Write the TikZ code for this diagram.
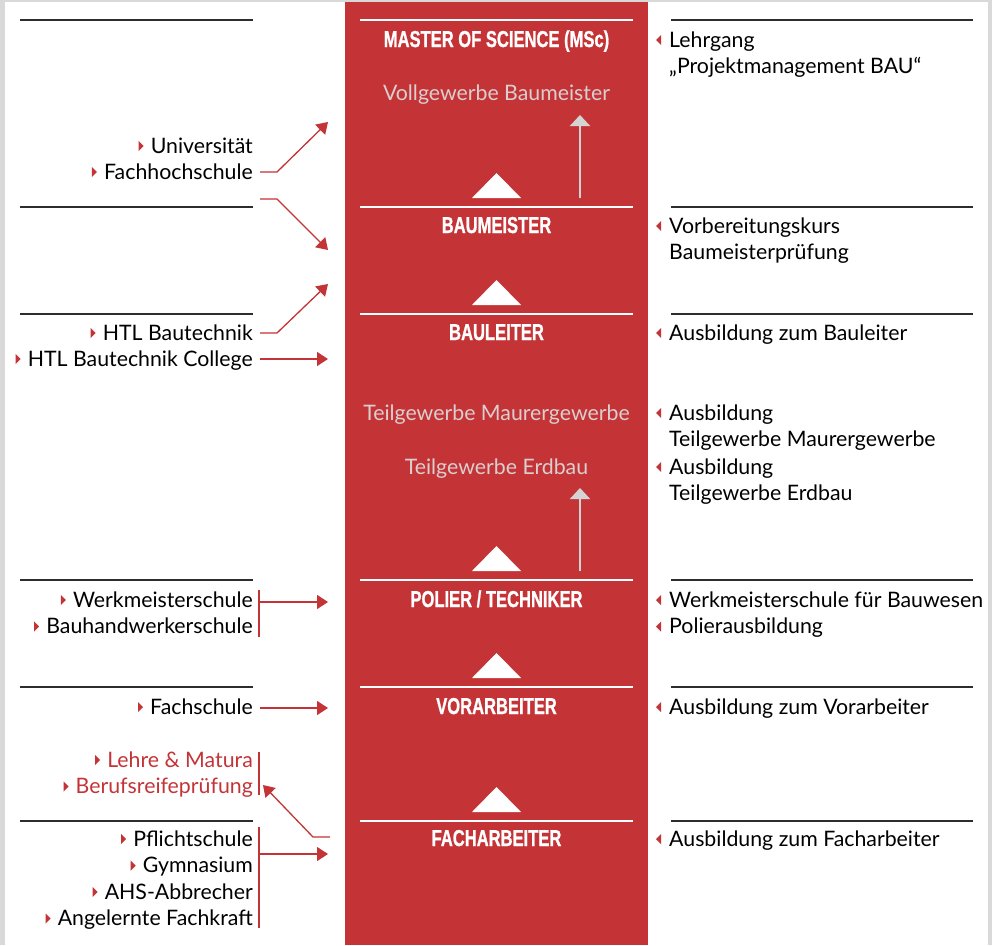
\documentclass[tikz,border=0pt]{standalone}
\usepackage{graphicx}
\usepackage{fontspec}
\setmainfont{Lato}
\newfontfamily\titlefont{Liberation Sans}[BoldFeatures={FakeBold=1.2}]
\usetikzlibrary{arrows.meta}
\definecolor{redc}{RGB}{196,52,55}
\definecolor{framec}{RGB}{217,217,217}
\definecolor{lightc}{RGB}{218,206,206}
\definecolor{linec}{RGB}{45,45,45}
\definecolor{arrowgray}{RGB}{212,212,212}
\newcommand\mkL[1]{\fill[redc] ([xshift=-7pt]#1.base west) ++(0,-7) -- ++(-5,-5) -- ++(0,10) -- cycle;}
\newcommand\mkR[1]{\fill[redc] ([xshift=-8pt]#1.base west) ++(0,-12) -- ++(0,10) -- ++(-5,-5) -- cycle;}
\newcommand\ttl[1]{\scalebox{0.72}[1]{#1}}
\begin{document}
\begin{tikzpicture}[x=1pt,y=-1pt,
  bodyfont/.style={font=\fontsize{21.3}{25}\selectfont},
  lt/.style={bodyfont, anchor=base east, inner sep=0pt, text=black},
  rt/.style={bodyfont, anchor=base west, inner sep=0pt, text=black},
  ct/.style={bodyfont, anchor=base, inner sep=0pt, text=lightc},
  tt/.style={anchor=base, inner sep=0pt, text=white, font=\titlefont\bfseries\fontsize{23}{27}\selectfont},
  sep/.style={linec, line width=1.3pt},
  wsep/.style={white, line width=1.2pt},
  rarr/.style={redc, line width=1.3pt, -{Triangle[length=11pt,width=14pt]}},
  brk/.style={redc, line width=1.3pt},
  garr/.style={arrowgray, line width=2pt, -{Triangle[length=11pt,width=20pt]}},
  lvl/.style={fill=white}
]
\useasboundingbox (0,0) rectangle (992,945);
\fill[framec] (0,0) rectangle (992,945);
\fill[white] (5,2) rectangle (988,945);
\fill[redc] (345,2) rectangle (648,945);

% separator lines
\foreach \yy in {20,207,314,580,687,821}{
  \draw[sep] (20,\yy) -- (253,\yy);
  \draw[wsep] (360,\yy) -- (633,\yy);
  \draw[sep] (671,\yy) -- (973,\yy);
}

% level triangles
\foreach \yy in {198,305,571,678,812}{
  \fill[lvl] (472,\yy) -- (521,\yy) -- (496.5,\yy-25) -- cycle;
}

% titles
\node[tt] (msc) at (496.5,47) {\ttl{MASTER OF SCIENCE (MSc)}};
\node[tt] (bm) at (496.5,233) {\ttl{BAUMEISTER}};
\node[tt] (bl) at (496.5,340) {\ttl{BAULEITER}};
\node[tt] (pt) at (496.5,607) {\ttl{POLIER / TECHNIKER}};
\node[tt] (va) at (496.5,714) {\ttl{VORARBEITER}};
\node[tt] (fa) at (496.5,846) {\ttl{FACHARBEITER}};

% light texts in column
\node[ct] (vg) at (496.5,100) {Vollgewerbe Baumeister};
\node[ct] (tm) at (496.5,420) {Teilgewerbe Maurergewerbe};
\node[ct] (te) at (496.5,474) {Teilgewerbe Erdbau};

% gray arrows
\coordinate (g1s) at (580,198); \coordinate (g1e) at (580,115);
\coordinate (g2s) at (580,571); \coordinate (g2e) at (580,488);
\draw[garr] (g1s) -- (g1e);
\draw[garr] (g2s) -- (g2e);

% left texts
\node[lt] (uni) at (253,153) {Universität}; \mkL{uni}
\node[lt] (fh) at (253,179) {Fachhochschule}; \mkL{fh}
\node[lt] (htl) at (253,340) {HTL Bautechnik}; \mkL{htl}
\node[lt] (htlc) at (253,366) {HTL Bautechnik College}; \mkL{htlc}
\node[lt] (wms) at (253,607) {Werkmeisterschule}; \mkL{wms}
\node[lt] (bhw) at (253,633.5) {Bauhandwerkerschule}; \mkL{bhw}
\node[lt] (fs) at (253,714) {Fachschule}; \mkL{fs}
\node[lt,text=redc] (lm) at (253,767) {Lehre \& Matura}; \mkL{lm}
\node[lt,text=redc] (brp) at (253,793.5) {Berufsreifeprüfung}; \mkL{brp}
\node[lt] (ps) at (253,846) {Pflichtschule}; \mkL{ps}
\node[lt] (gym) at (253,872.5) {Gymnasium}; \mkL{gym}
\node[lt] (ahs) at (253,899) {AHS-Abbrecher}; \mkL{ahs}
\node[lt] (aef) at (253,925.5) {Angelernte Fachkraft}; \mkL{aef}

% right texts
\node[rt] (r1) at (669,47) {Lehrgang}; \mkR{r1}
\node[rt] (r1b) at (669,73.5) {„Projektmanagement BAU“};
\node[rt] (r2) at (669,233) {Vorbereitungskurs}; \mkR{r2}
\node[rt] (r2b) at (669,259.5) {Baumeisterprüfung};
\node[rt] (r3) at (669,340) {Ausbildung zum Bauleiter}; \mkR{r3}
\node[rt] (r4) at (669,420) {Ausbildung}; \mkR{r4}
\node[rt] (r4b) at (669,446.5) {Teilgewerbe Maurergewerbe};
\node[rt] (r5) at (669,474) {Ausbildung}; \mkR{r5}
\node[rt] (r5b) at (669,500.5) {Teilgewerbe Erdbau};
\node[rt] (r6) at (669,607) {Werkmeisterschule für Bauwesen}; \mkR{r6}
\node[rt] (r7) at (669,633.5) {Polierausbildung}; \mkR{r7}
\node[rt] (r8) at (669,714) {Ausbildung zum Vorarbeiter}; \mkR{r8}
\node[rt] (r9) at (669,846) {Ausbildung zum Facharbeiter}; \mkR{r9}

% red arrows
\coordinate (a1s) at (260,172); \coordinate (a1e) at (328,122);
\draw[rarr] (a1s) -- ++(17,0) -- (a1e);
\coordinate (a2s) at (260,199); \coordinate (a2e) at (328,250);
\draw[rarr] (a2s) -- ++(17,0) -- (a2e);
\coordinate (a3s) at (260,333); \coordinate (a3e) at (328,284);
\draw[rarr] (a3s) -- ++(17,0) -- (a3e);
\coordinate (a4s) at (260,359); \coordinate (a4e) at (328,359);
\draw[rarr] (a4s) -- (a4e);
% Werkmeister bracket
\coordinate (b1t) at (259,590); \coordinate (b1b) at (259,637);
\draw[brk] (b1t) -- (b1b);
\coordinate (a5s) at (259,602); \coordinate (a5e) at (328,602);
\draw[rarr] (a5s) -- (a5e);
% Fachschule
\coordinate (a6s) at (260,708); \coordinate (a6e) at (328,708);
\draw[rarr] (a6s) -- (a6e);
% Lehre bracket
\coordinate (b2t) at (259,752); \coordinate (b2b) at (259,795);
\draw[brk] (b2t) -- (b2b);
\coordinate (a7s) at (330,837); \coordinate (a7e) at (263,785);
\draw[rarr] (a7s) -- ++(-17,0) -- (a7e);
% Pflichtschule bracket
\coordinate (b3t) at (259,827); \coordinate (b3b) at (259,928);
\draw[brk] (b3t) -- (b3b);
\coordinate (a8s) at (259,854); \coordinate (a8e) at (328,854);
\draw[rarr] (a8s) -- (a8e);
\end{tikzpicture}
\end{document}
